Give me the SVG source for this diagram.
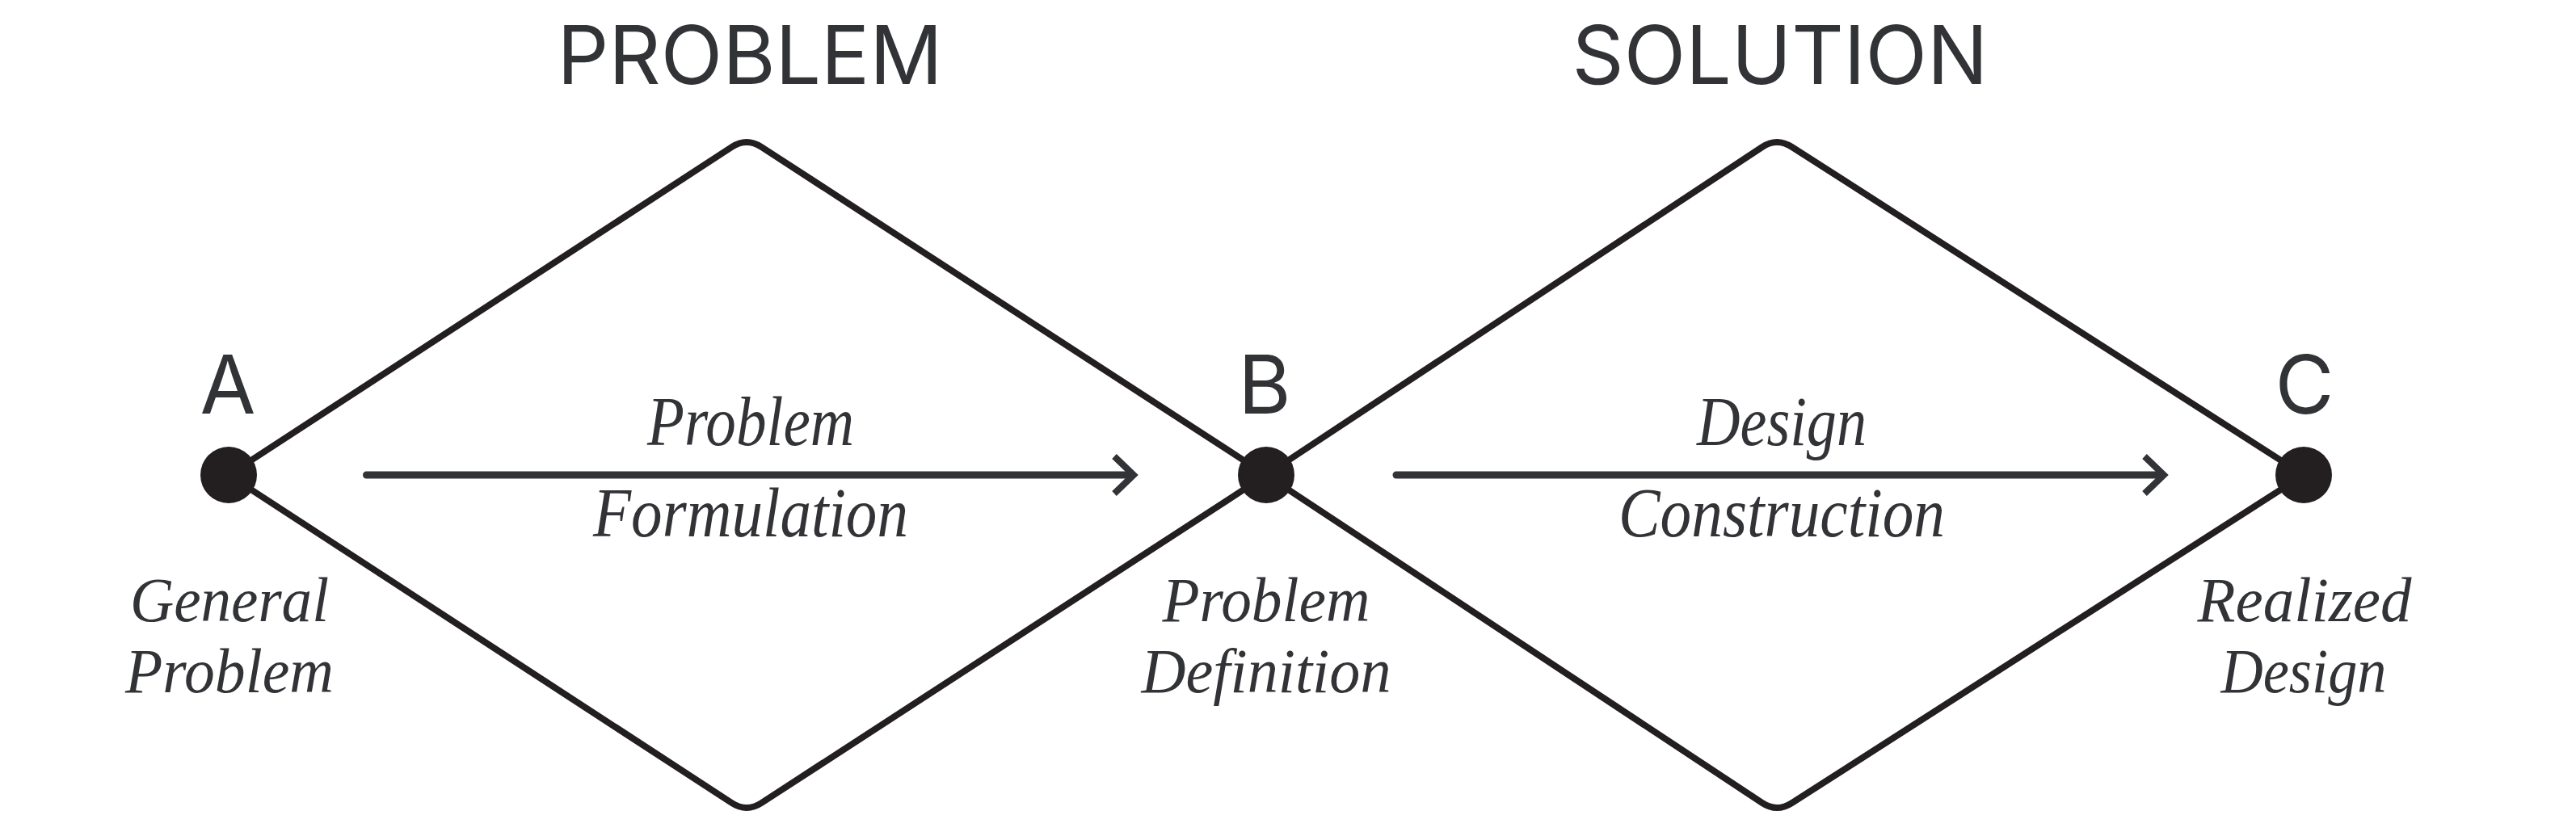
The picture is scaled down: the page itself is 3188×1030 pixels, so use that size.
<svg xmlns="http://www.w3.org/2000/svg" width="3188" height="1030" viewBox="0 0 3188 1030">
  <style>
    .edge { fill: none; stroke: #231f20; stroke-width: 8; stroke-linejoin: round; }
    .dot { fill: #231f20; }
    .arrow { fill: none; stroke: #323336; stroke-width: 9; stroke-linecap: round; }
    .head { font-family: Inter, "Liberation Sans", sans-serif; font-size: 100px; fill: #323336; text-anchor: middle; }
    .lbl { font-family: "Liberation Serif", serif; font-style: italic; font-size: 86px; fill: #323336; text-anchor: middle; }
    .nlbl { font-family: "Liberation Serif", serif; font-style: italic; font-size: 78px; fill: #323336; text-anchor: middle; }
  </style>
  <defs>
    <marker id="arr" markerUnits="userSpaceOnUse" viewBox="-40 -30 60 60" markerWidth="60" markerHeight="60" refX="0" refY="0" orient="auto">
      <path d="M-21,-23 L3,0 L-21,23" fill="none" stroke="#323336" stroke-width="8" stroke-linejoin="miter"/>
    </marker>
  </defs>
  <rect width="3188" height="1030" fill="#ffffff"/>

  <g id="titles">
    <text class="head" x="928" y="104">PROBLEM</text>
    <text class="head" x="2203" y="104">SOLUTION</text>
  </g>

  <g id="diamonds">
    <path id="diamond-problem" class="edge" d="M283,588 L905.6,182 Q924,170 942.4,182 L1567,588 L942.4,994 Q924,1006 905.6,994 Z"/>
    <path id="diamond-solution" class="edge" d="M1567,588 L2180.7,182.1 Q2199,170 2217.5,181.9 L2851,588 L2217.5,994.1 Q2199,1006 2180.7,993.9 Z"/>
  </g>

  <g id="connectors">
    <path id="arrow-formulation" class="arrow" d="M453.5,588 H1400" marker-end="url(#arr)"/>
    <path id="arrow-construction" class="arrow" d="M1728,588 H2675" marker-end="url(#arr)"/>
  </g>

  <g id="edge-labels">
    <text class="lbl" x="929" y="551" textLength="256" lengthAdjust="spacingAndGlyphs">Problem</text>
    <text class="lbl" x="929" y="664" textLength="390" lengthAdjust="spacingAndGlyphs">Formulation</text>
    <text class="lbl" x="2205" y="551" textLength="210" lengthAdjust="spacingAndGlyphs">Design</text>
    <text class="lbl" x="2205" y="664" textLength="404" lengthAdjust="spacingAndGlyphs">Construction</text>
  </g>

  <g id="node-A">
    <circle class="dot" cx="283" cy="588" r="35"/>
    <text class="head" x="282" y="512">A</text>
    <text class="nlbl" x="284" y="769" textLength="246" lengthAdjust="spacingAndGlyphs">General</text>
    <text class="nlbl" x="284" y="857" textLength="258" lengthAdjust="spacingAndGlyphs">Problem</text>
  </g>

  <g id="node-B">
    <circle class="dot" cx="1567" cy="588" r="35"/>
    <text class="head" x="1565" y="512">B</text>
    <text class="nlbl" x="1567" y="769" textLength="257" lengthAdjust="spacingAndGlyphs">Problem</text>
    <text class="nlbl" x="1567" y="857" textLength="309" lengthAdjust="spacingAndGlyphs">Definition</text>
  </g>

  <g id="node-C">
    <circle class="dot" cx="2851" cy="588" r="35"/>
    <text class="head" x="2852" y="512">C</text>
    <text class="nlbl" x="2852" y="769" textLength="265" lengthAdjust="spacingAndGlyphs">Realized</text>
    <text class="nlbl" x="2851" y="857" textLength="205" lengthAdjust="spacingAndGlyphs">Design</text>
  </g>
</svg>
